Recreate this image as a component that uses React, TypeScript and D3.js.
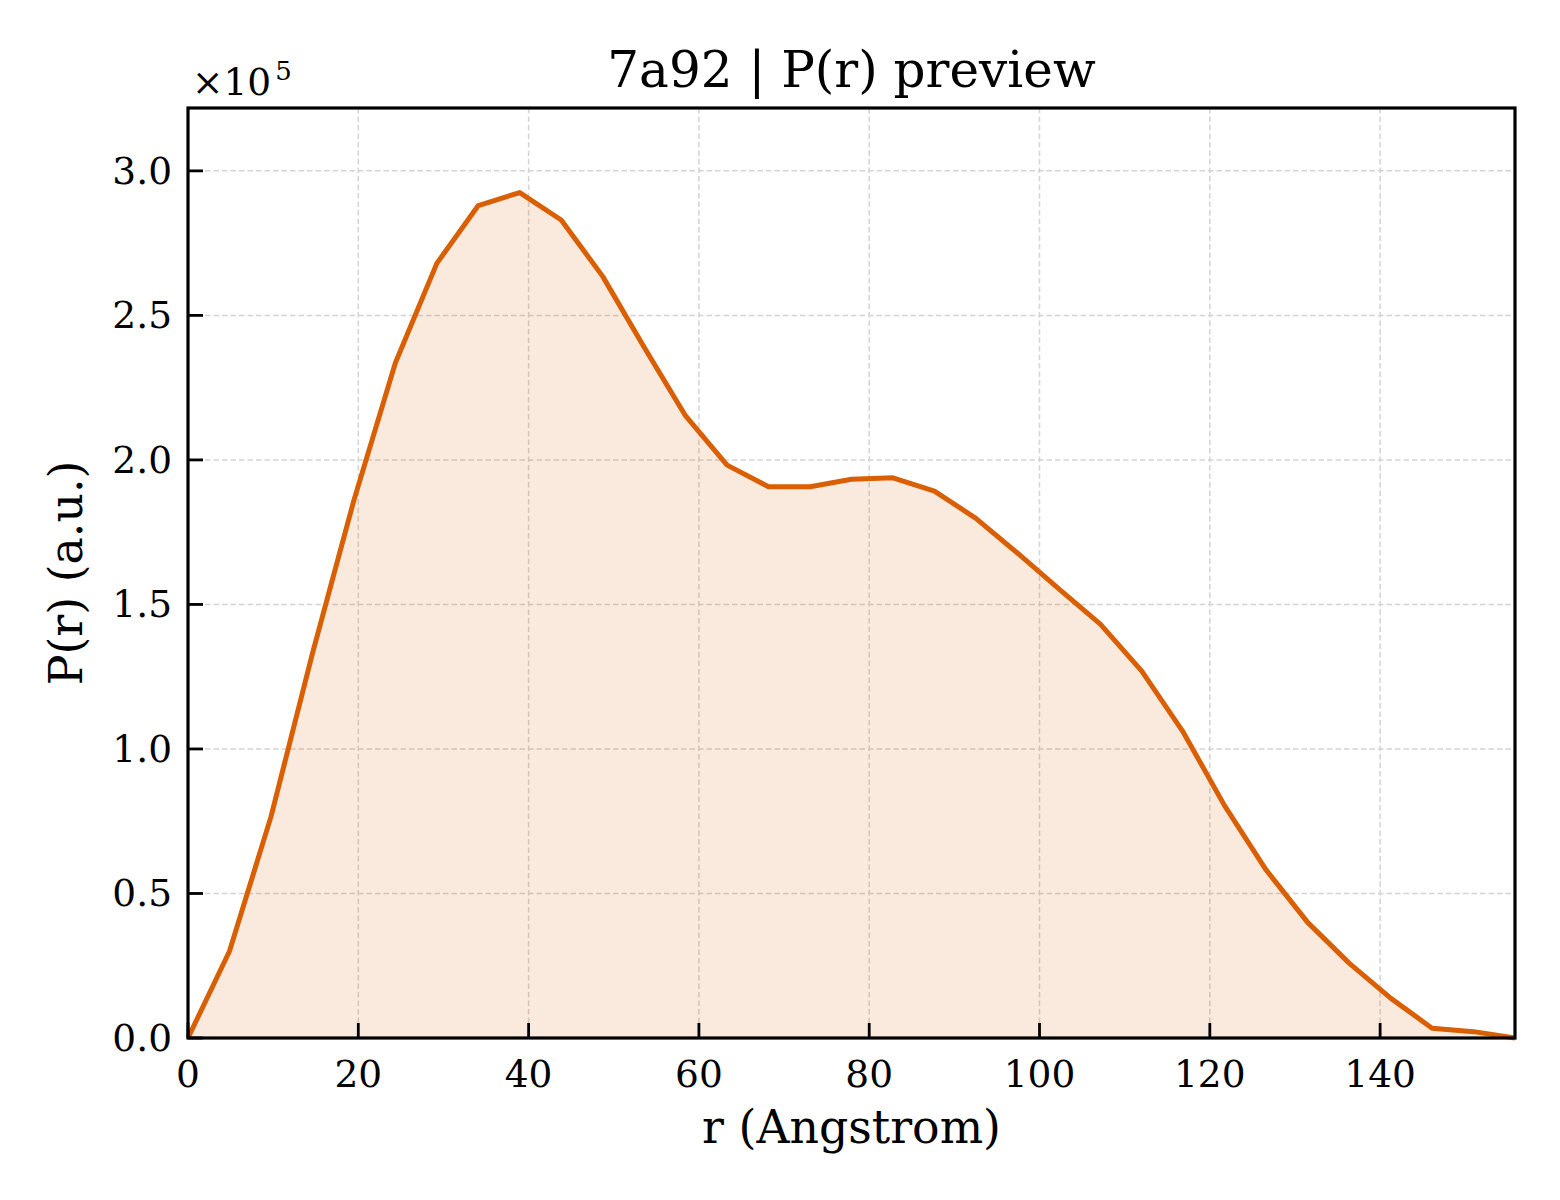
import React from "react";
import * as d3 from "d3";

const rValues = [
  0, 4.87, 9.74, 14.61, 19.48, 24.35, 29.22, 34.09, 38.96, 43.83, 48.7, 53.57,
  58.44, 63.31, 68.18, 73.05, 77.92, 82.79, 87.66, 92.53, 97.4, 102.27, 107.14,
  112.01, 116.88, 121.75, 126.62, 131.49, 136.36, 141.23, 146.1, 150.97, 155.84,
];
const pValues = [
  0, 0.3, 0.765, 1.33, 1.86, 2.335, 2.68, 2.88, 2.925, 2.83, 2.635, 2.39,
  2.152, 1.982, 1.907, 1.907, 1.933, 1.938, 1.892, 1.798, 1.678, 1.554, 1.432,
  1.269, 1.058, 0.803, 0.581, 0.4, 0.259, 0.138, 0.034, 0.022, 0,
].map((v) => v * 1e5);
const xTicks = [0, 20, 40, 60, 80, 100, 120, 140];
const yTicks = [0, 0.5, 1.0, 1.5, 2.0, 2.5, 3.0].map((v) => v * 1e5);

const title = "7a92 | P(r) preview";
const xLabel = "r (Angstrom)";
const yLabel = "P(r) (a.u.)";

const W = 1560;
const H = 1200;
const L = 188;
const R = 1515;
const T = 108;
const B = 1038;
const COLOR = "#d95f02";
const FONT = "'DejaVu Serif', serif";

export default function App() {
  const x = d3.scaleLinear().domain([0, d3.max(rValues)!]).range([L, R]);
  const y = d3
    .scaleLinear()
    .domain([0, d3.max(pValues)! * 1.1])
    .range([B, T]);
  const pts = rValues.map((r, i) => [r, pValues[i]] as [number, number]);
  const line = d3
    .line<[number, number]>()
    .x((d) => x(d[0]))
    .y((d) => y(d[1]));
  const area = d3
    .area<[number, number]>()
    .x((d) => x(d[0]))
    .y0(y(0))
    .y1((d) => y(d[1]));

  return (
    <svg
      width={W}
      height={H}
      style={{ position: "absolute", left: 0, top: 0, background: "#fff" }}
      fontFamily={FONT}
    >
      <rect x={0} y={0} width={W} height={H} fill="#fff" />
      {/* grid */}
      <g stroke="#d4d4d4" strokeWidth={1.5} strokeDasharray="5.5,3">
        {xTicks
          .filter((t) => t > 0)
          .map((t) => (
            <line key={"gx" + t} x1={x(t)} x2={x(t)} y1={T} y2={B} />
          ))}
        {yTicks
          .filter((t) => t > 0)
          .map((t) => (
            <line key={"gy" + t} x1={L} x2={R} y1={y(t)} y2={y(t)} />
          ))}
      </g>
      <path d={area(pts)!} fill={COLOR} fillOpacity={0.13} />
      <path
        d={line(pts)!}
        fill="none"
        stroke={COLOR}
        strokeWidth={5}
        strokeLinejoin="round"
        strokeLinecap="butt"
      />
      {/* ticks */}
      <g stroke="#000" strokeWidth={2.8}>
        {xTicks.map((t) => (
          <line key={"tx" + t} x1={x(t)} x2={x(t)} y1={B} y2={B - 15} />
        ))}
        {yTicks.map((t) => (
          <line key={"ty" + t} x1={L} x2={L + 15} y1={y(t)} y2={y(t)} />
        ))}
      </g>
      {/* spines */}
      <rect
        x={L}
        y={T}
        width={R - L}
        height={B - T}
        fill="none"
        stroke="#000"
        strokeWidth={3.2}
      />
      {/* tick labels */}
      <g fontSize={37.5} fill="#000">
        {xTicks.map((t) => (
          <text key={"lx" + t} x={x(t)} y={1087} textAnchor="middle">
            {t}
          </text>
        ))}
        {yTicks.map((t) => (
          <text
            key={"ly" + t}
            x={172}
            y={y(t)}
            textAnchor="end"
            dominantBaseline="central"
          >
            {(t / 1e5).toFixed(1)}
          </text>
        ))}
      </g>
      {/* offset text */}
      <text x={192} y={95} fontSize={37.5} fill="#000">
        ×10
        <tspan fontSize={26} dx={4} dy={-15}>
          5
        </tspan>
      </text>
      <text x={(L + R) / 2} y={87} fontSize={50} textAnchor="middle" fill="#000">
        {title}
      </text>
      <text
        x={(L + R) / 2}
        y={1143}
        fontSize={45.8}
        textAnchor="middle"
        fill="#000"
      >
        {xLabel}
      </text>
      <text
        transform={`translate(82,${(T + B) / 2}) rotate(-90)`}
        fontSize={45.8}
        textAnchor="middle"
        fill="#000"
      >
        {yLabel}
      </text>
    </svg>
  );
}
